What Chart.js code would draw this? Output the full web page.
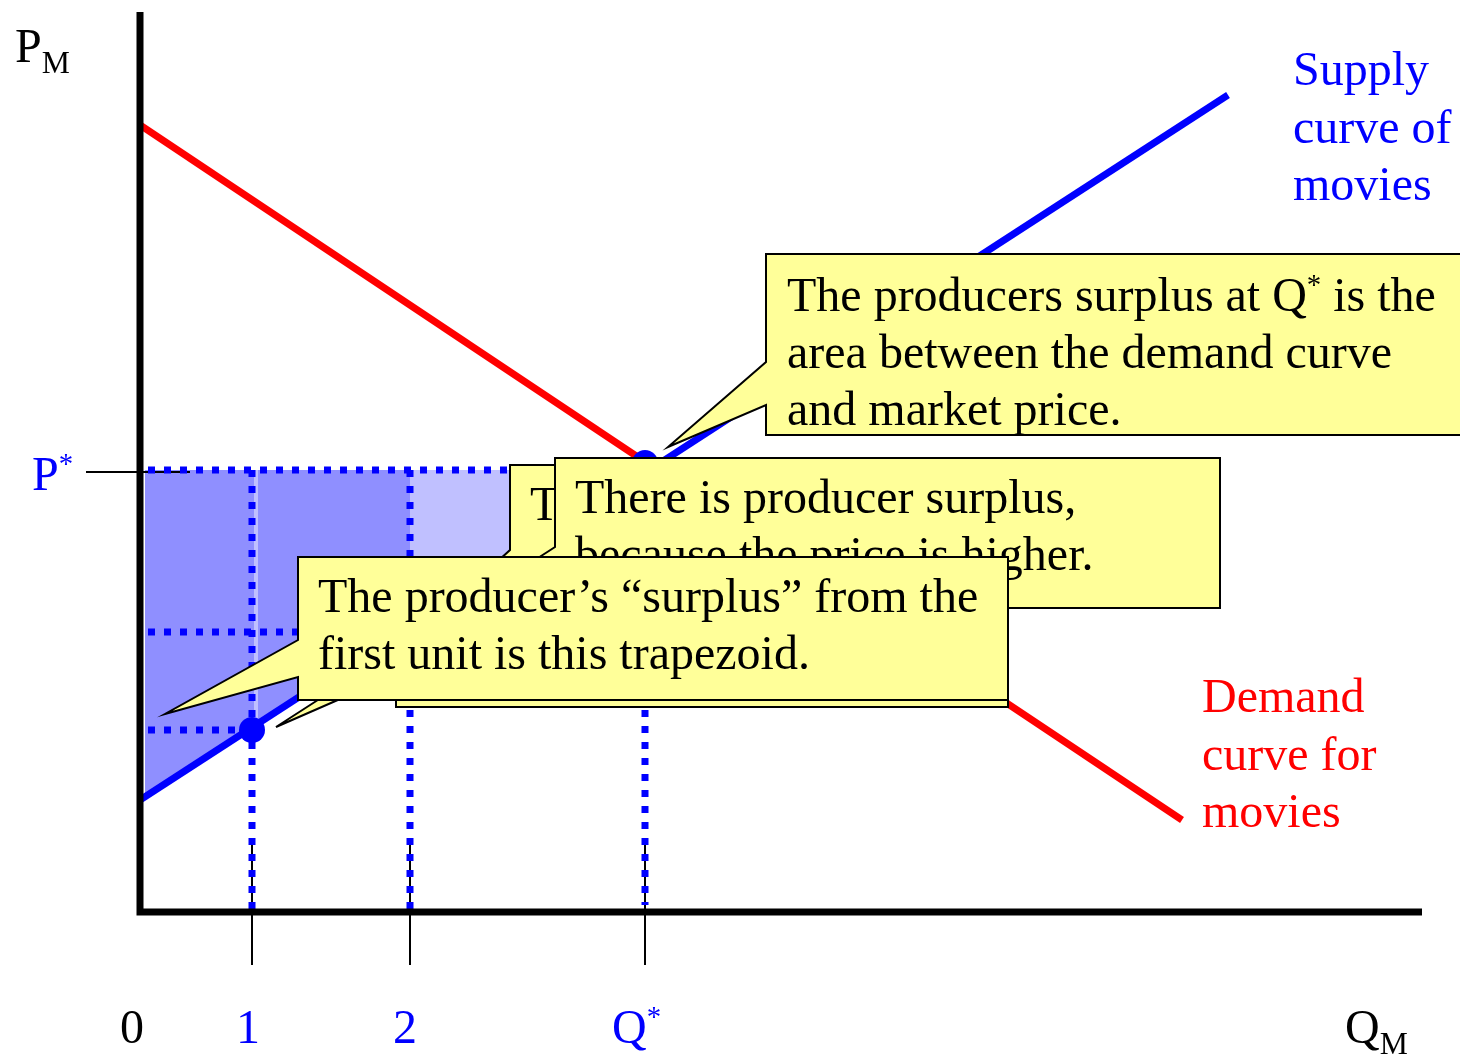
<!DOCTYPE html>
<html>
<head>
<meta charset="utf-8">
<script src="https://cdn.jsdelivr.net/npm/chart.js@4"></script>
<style>
  body { margin: 0; background: #fff; }
  #wrap { width: 1460px; height: 1057px; }
</style>
</head>
<body>
<div id="wrap"><canvas id="surplus" width="1460" height="1057"></canvas></div>
<script>
// producer surplus diagram - both axes use 1 unit = 10px

const demandX = [0, 104.2]
const demandY = [78.7, 9.2]
const supplyX = [0, 108.8]
const supplyY = [11.2, 81.7]

const qTicks = [11.2, 27.0, 50.5]      // 1, 2, Q*
const qTickLabels = ['1', '2', 'Q*']
const pStar = 44.2
const unitPrices = [18.2, 28.0]        // supply price of 1st and 2nd unit
const firstUnit = [11.2, 18.2]
const eqPoint = [50.5, 44.9]

const xMax = 128.2, yMax = 90

const BLUE = '#0000ff', RED = '#ff0000'
const FONT = '"Liberation Serif", "Times New Roman", serif'

function supplyAt(q) {
  return supplyY[0] + (supplyY[1] - supplyY[0]) * (q - supplyX[0]) / (supplyX[1] - supplyX[0])
}

function seg(x1, y1, x2, y2) { return [{x: x1, y: y1}, {x: x2, y: y2}] }

function poly(x1, x2) {
  return [
    {x: x1, y: pStar}, {x: x2, y: pStar},
    {x: x2, y: supplyAt(x2)}, {x: x1, y: supplyAt(x1)},
    {x: x1, y: pStar}
  ]
}

const qStar = qTicks[2]

const datasets = []

// shaded surplus areas
datasets.push({ data: poly(0.5, qStar), fill: 'shape', backgroundColor: '#c0c0ff', borderWidth: 0, order: 20 })
datasets.push({ data: poly(0.5, qTicks[0] + 0.2), fill: 'shape', backgroundColor: '#8f8fff', borderWidth: 0, order: 19 })
datasets.push({ data: poly(qTicks[0] + 0.6, qTicks[1]), fill: 'shape', backgroundColor: '#8f8fff', borderWidth: 0, order: 19 })

// dotted guides
const dotted = { borderColor: BLUE, borderWidth: 7, borderDash: [7, 9], order: 10 }
datasets.push({ ...dotted, data: seg(0.8, pStar, qStar, pStar) })
qTicks.forEach((q, i) => {
  datasets.push({ ...dotted, data: seg(q, pStar, q, i === 2 ? 0.7 : 0) })
})
unitPrices.forEach((p, i) => {
  datasets.push({ ...dotted, data: seg(0.8, p, qTicks[i], p) })
})

// thin tick marks
const thin = { borderColor: '#000', borderWidth: 2, order: 12 }
qTicks.forEach(q => datasets.push({ ...thin, data: seg(q, 6.9, q, -5.3) }))
datasets.push({ ...thin, data: seg(-5.4, pStar - 0.2, 5.0, pStar - 0.2) })

// curves
datasets.push({ data: seg(demandX[0], demandY[0], demandX[1], demandY[1]), borderColor: RED, borderWidth: 7, order: 6 })
datasets.push({ data: seg(supplyX[0], supplyY[0], supplyX[1], supplyY[1]), borderColor: BLUE, borderWidth: 7, order: 5 })

// axes
datasets.push({
  data: [{x: 0, y: yMax}, {x: 0, y: 0}, {x: xMax, y: 0}],
  borderColor: '#000', borderWidth: 7, borderJoinStyle: 'miter', order: 4
})

// points
datasets.push({
  data: [{x: firstUnit[0], y: firstUnit[1]}, {x: eqPoint[0], y: eqPoint[1]}],
  showLine: false, pointRadius: 13, pointBackgroundColor: BLUE, pointBorderWidth: 0, order: 1
})

datasets.forEach(d => {
  if (d.showLine === undefined) d.showLine = true
  if (d.pointRadius === undefined) d.pointRadius = 0
  d.clip = false
})

// callouts, in chart units; ptr = [upper, lower] y on left edge
const callouts = [
  { box: [25.6, 34.7, 86.8, 20.5] },
  { box: [37.0, 44.7, 86.0, 31.2], ptr: [36.2, 32.0], tip: [26.0, 26.2],
    at: [39.0, 39.2], lines: [['T']] },
  { box: [41.5, 45.4, 108.0, 30.4], ptr: [36.5, 30.7], tip: [13.6, 18.5],
    at: [43.5, 39.9], lines: [['There is producer surplus,'], ['because the price is higher.']] },
  { box: [15.8, 35.5, 86.8, 21.2], ptr: [27.2, 23.5], tip: [2.5, 19.8],
    at: [17.8, 30.0], lines: [['The producer\u2019s \u201csurplus\u201d from the'], ['first unit is this trapezoid.']] },
  { box: [62.6, 65.8, 135.0, 47.7], ptr: [55.0, 50.7], tip: [52.8, 46.5],
    at: [64.7, 60.1], lines: [['The producers surplus at Q', ['*', 'sup'], ' is the'], ['area between the demand curve'], ['and market price.']] }
]

const labels = [
  { at: [-12.5, 85.0], parts: ['P', ['M', 'sub']], color: '#000' },
  { at: [-10.8, 42.2], parts: ['P', ['*', 'sup']], color: BLUE },
  { at: [-2.0, -13.1], parts: ['0'], color: '#000' },
  { at: [9.6, -13.1], parts: [qTickLabels[0]], color: BLUE },
  { at: [25.3, -13.1], parts: [qTickLabels[1]], color: BLUE },
  { at: [47.2, -13.1], parts: ['Q', ['*', 'sup']], color: BLUE },
  { at: [120.5, -13.1], parts: ['Q', ['M', 'sub']], color: '#000' },
  { at: [115.3, 82.7], parts: ['Supply'], color: BLUE },
  { at: [115.3, 76.9], parts: ['curve of'], color: BLUE },
  { at: [115.3, 71.2], parts: ['movies'], color: BLUE },
  { at: [106.2, 20.0], parts: ['Demand'], color: RED },
  { at: [106.2, 14.2], parts: ['curve for'], color: RED },
  { at: [106.2, 8.5], parts: ['movies'], color: RED }
]

function rich(ctx, x, y, parts, size, color) {
  ctx.fillStyle = color
  ctx.textAlign = 'left'
  ctx.textBaseline = 'alphabetic'
  for (const p of parts) {
    const t = typeof p === 'string' ? p : p[0]
    const kind = typeof p === 'string' ? null : p[1]
    let s = size, dy = 0
    if (kind === 'sup') { s = size * 0.6; dy = -size * 0.36 }
    if (kind === 'sub') { s = size * 0.66; dy = size * 0.22 }
    ctx.font = s + 'px ' + FONT
    ctx.fillText(t, x, y + dy)
    x += ctx.measureText(t).width
  }
}

const overlay = {
  id: 'overlay',
  afterDatasetsDraw(chart) {
    const ctx = chart.ctx
    const sx = v => chart.scales.x.getPixelForValue(v)
    const sy = v => chart.scales.y.getPixelForValue(v)
    ctx.save()
    callouts.forEach(c => {
      const L = sx(c.box[0]), T = sy(c.box[1]), R = sx(c.box[2]), B = sy(c.box[3])
      ctx.beginPath()
      ctx.moveTo(L, T)
      ctx.lineTo(R, T)
      ctx.lineTo(R, B)
      ctx.lineTo(L, B)
      if (c.ptr) {
        ctx.lineTo(L, sy(c.ptr[1]))
        ctx.lineTo(sx(c.tip[0]), sy(c.tip[1]))
        ctx.lineTo(L, sy(c.ptr[0]))
      }
      ctx.closePath()
      ctx.fillStyle = '#ffff99'
      ctx.fill()
      ctx.lineWidth = 2
      ctx.strokeStyle = '#000'
      ctx.lineJoin = 'miter'
      ctx.stroke()
      if (c.lines) {
        c.lines.forEach((ln, i) => rich(ctx, sx(c.at[0]), sy(c.at[1]) + i * 57, ln, 48, '#000'))
      }
    })
    labels.forEach(l => rich(ctx, sx(l.at[0]), sy(l.at[1]), l.parts, 48, l.color))
    ctx.restore()
  }
}

new Chart(document.getElementById('surplus'), {
  type: 'scatter',
  data: { datasets },
  options: {
    responsive: false,
    animation: false,
    events: [],
    layout: { padding: 0, autoPadding: false },
    scales: {
      x: { type: 'linear', display: false, min: -14, max: 132 },
      y: { type: 'linear', display: false, min: -14.5, max: 91.2 }
    },
    plugins: {
      legend: { display: false },
      tooltip: { enabled: false }
    }
  },
  plugins: [overlay]
})
</script>
</body>
</html>
